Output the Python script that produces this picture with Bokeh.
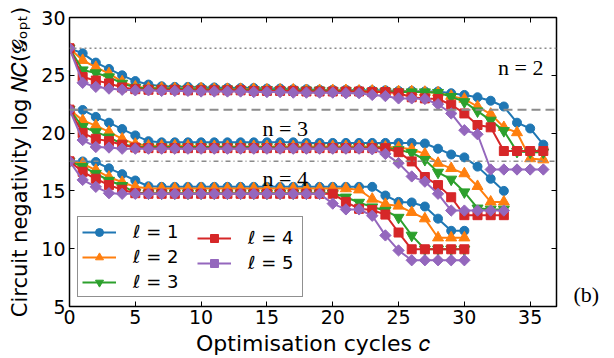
import math
from bokeh.plotting import figure
from bokeh.models import (Range1d, FixedTicker, LinearAxis, CustomJSTickFormatter,
                          Legend, LegendItem, Span, Label)
from bokeh.embed import file_html
from bokeh.resources import INLINE

# ---------------- data ----------------
x_ticks = [0, 5, 10, 15, 20, 25, 30, 35]
y_ticks = [5, 10, 15, 20, 25, 30]

ell_labels = ["ℓ = 1", "ℓ = 2", "ℓ = 3", "ℓ = 4", "ℓ = 5"]
group_labels = ["n = 2", "n = 3", "n = 4"]
ref_levels = [27.34, 22.03, 17.56]

x_n2 = list(range(0, 37))
x_n3 = list(range(0, 34))
x_n4 = list(range(0, 31))

# n = 2
n2_l1 = [27.34, 26.9, 26.1, 25.55, 25.0, 24.5, 24.2, 24.05, 24.0, 24.0, 23.95, 23.95, 23.9, 23.9,
         23.9, 23.85, 23.85, 23.8, 23.8, 23.75, 23.75, 23.75, 23.7, 23.7, 23.7, 23.65, 23.65, 23.6,
         23.6, 23.45, 23.3, 23.1, 22.8, 22.3, 20.9, 20.4, 19.0]
n2_l2 = [27.34, 26.3, 25.7, 25.15, 24.45, 24.0, 23.9, 23.9, 23.85, 23.85, 23.85, 23.8, 23.8, 23.8,
         23.8, 23.75, 23.75, 23.75, 23.7, 23.7, 23.7, 23.7, 23.65, 23.65, 23.6, 23.6, 23.6, 23.55,
         23.5, 23.2, 22.95, 22.3, 21.65, 20.5, 20.05, 17.8, 17.7]
n2_l3 = [27.34, 25.45, 25.2, 24.85, 24.3, 23.95, 23.85, 23.85, 23.85, 23.8, 23.8, 23.8, 23.8, 23.75,
         23.75, 23.75, 23.7, 23.7, 23.7, 23.7, 23.65, 23.65, 23.6, 23.6, 23.6, 23.55, 23.55, 23.55,
         23.5, 23.15, 22.7, 21.9, 21.1, 20.2, 18.4, 18.35, 18.35]
n2_l4 = [27.34, 24.85, 24.55, 24.3, 23.95, 23.8, 23.75, 23.75, 23.75, 23.7, 23.7, 23.7, 23.7, 23.7,
         23.65, 23.65, 23.65, 23.65, 23.6, 23.6, 23.6, 23.6, 23.6, 23.55, 23.55, 23.45, 23.1, 23.0,
         22.95, 22.45, 21.7, 20.7, 20.5, 18.45, 18.45, 18.45, 18.45]
n2_l5 = [27.34, 24.35, 24.0, 23.85, 23.75, 23.7, 23.7, 23.65, 23.65, 23.65, 23.6, 23.6, 23.6, 23.6,
         23.55, 23.55, 23.55, 23.5, 23.5, 23.5, 23.5, 23.45, 23.45, 23.3, 23.2, 23.0, 23.0, 22.95,
         22.5, 21.7, 20.25, 19.9, 16.85, 16.85, 16.85, 16.85, 16.85]

# n = 3
n3_l1 = [22.03, 22.0, 21.4, 20.9, 20.35, 19.8, 19.3, 19.2, 19.2, 19.2, 19.2, 19.2, 19.2, 19.2,
         19.2, 19.2, 19.2, 19.2, 19.15, 19.15, 19.15, 19.15, 19.15, 19.15, 19.15, 19.15, 19.15,
         19.1, 18.65, 18.15, 17.9, 17.1, 16.05, 15.0]
n3_l2 = [22.03, 21.1, 20.65, 20.1, 19.5, 19.05, 18.9, 18.9, 18.9, 18.9, 18.85, 18.85, 18.85, 18.85,
         18.85, 18.85, 18.85, 18.85, 18.85, 18.85, 18.85, 18.85, 18.85, 18.85, 18.8, 18.75, 18.6,
         18.2, 17.4, 16.95, 16.5, 15.4, 14.05, 14.05]
n3_l3 = [22.03, 20.55, 20.1, 19.65, 19.05, 18.8, 18.8, 18.8, 18.8, 18.8, 18.8, 18.8, 18.8, 18.8,
         18.8, 18.8, 18.75, 18.75, 18.75, 18.75, 18.75, 18.75, 18.75, 18.75, 18.75, 18.55, 18.3,
         17.7, 16.6, 16.0, 14.9, 13.5, 13.4, 13.4]
n3_l4 = [22.03, 20.0, 19.5, 19.3, 19.0, 18.75, 18.7, 18.7, 18.7, 18.7, 18.7, 18.7, 18.7, 18.7,
         18.7, 18.7, 18.7, 18.7, 18.7, 18.7, 18.7, 18.7, 18.7, 18.7, 18.7, 18.35, 17.55, 16.2,
         15.5, 14.45, 12.9, 12.9, 12.9, 12.9]
n3_l5 = [22.03, 19.4, 18.8, 18.75, 18.65, 18.65, 18.65, 18.65, 18.65, 18.65, 18.65, 18.65, 18.65,
         18.65, 18.65, 18.65, 18.65, 18.65, 18.65, 18.65, 18.65, 18.65, 18.65, 18.6, 18.2, 17.4,
         16.25, 15.8, 14.75, 13.3, 13.3, 13.3, 13.3, 13.3]

# n = 4
n4_l1 = [17.56, 17.55, 17.5, 16.95, 16.45, 15.9, 15.4, 15.35, 15.35, 15.35, 15.35, 15.35, 15.35,
         15.35, 15.35, 15.35, 15.35, 15.35, 15.35, 15.35, 15.35, 15.35, 15.35, 15.35, 14.6, 14.05,
         14.0, 13.65, 12.6, 11.55, 11.55]
n4_l2 = [17.56, 17.35, 16.8, 16.2, 15.75, 15.35, 15.2, 15.2, 15.2, 15.2, 15.2, 15.2, 15.2, 15.2,
         15.2, 15.2, 15.2, 15.2, 15.2, 15.2, 15.2, 15.2, 15.1, 14.3, 13.85, 13.7, 13.15, 12.6,
         10.95, 10.95, 10.95]
n4_l3 = [17.56, 17.1, 16.5, 15.9, 15.45, 14.85, 14.8, 14.8, 14.8, 14.8, 14.8, 14.8, 14.8, 14.8,
         14.8, 14.8, 14.8, 14.8, 14.8, 14.8, 14.8, 14.45, 14.0, 13.6, 13.3, 12.7, 11.15, 9.95,
         9.95, 9.95, 9.95]
n4_l4 = [17.56, 16.65, 16.05, 15.5, 15.1, 14.8, 14.75, 14.75, 14.75, 14.75, 14.75, 14.75, 14.75,
         14.75, 14.75, 14.75, 14.75, 14.75, 14.75, 14.75, 14.75, 14.05, 13.45, 13.35, 12.95, 11.4,
         9.95, 9.95, 9.95, 9.95, 9.95]
n4_l5 = [17.56, 15.95, 15.35, 14.8, 14.75, 14.75, 14.75, 14.75, 14.75, 14.75, 14.75, 14.75, 14.75,
         14.75, 14.75, 14.75, 14.75, 14.75, 14.75, 14.75, 13.9, 13.4, 13.4, 12.85, 11.15, 9.85,
         9.0, 9.0, 9.0, 9.0, 9.0]

series = [
    [(x_n2, n2_l1), (x_n3, n3_l1), (x_n4, n4_l1)],
    [(x_n2, n2_l2), (x_n3, n3_l2), (x_n4, n4_l2)],
    [(x_n2, n2_l3), (x_n3, n3_l3), (x_n4, n4_l3)],
    [(x_n2, n2_l4), (x_n3, n3_l4), (x_n4, n4_l4)],
    [(x_n2, n2_l5), (x_n3, n3_l5), (x_n4, n4_l5)],
]

x_label = "Optimisation cycles 𝑐"
y_label = "Circuit negativity log 𝑁𝐶(𝓖ₒₚₜ)"
panel_tag = "(b)"
panel_tag_at = 6

# ---------------- styles ----------------
colors = ["#1f77b4", "#ff7f0e", "#2ca02c", "#d62728", "#9467bd"]
markers = ["circle", "triangle", "inverted_triangle", "square", "square"]
msizes = [9, 11, 11, 9, 8]
mangles = [0, 0, 0, 0, math.pi / 4]

W, H = 614, 358
BL, BR, BT, BB = 69, 58, 17, 52
X0, X1, Y0, Y1 = 0, 37, 5, 30
FW, FH = W - BL - BR, H - BT - BB


def sx(px):
    return X0 + (px - BL) * (X1 - X0) / FW


def sy(py):
    return Y1 - (py - BT) * (Y1 - Y0) / FH


p = figure(width=W, height=H, x_range=Range1d(X0, X1), y_range=Range1d(Y0, Y1),
           output_backend="svg", toolbar_location=None,
           min_border_left=BL, min_border_right=BR, min_border_top=BT, min_border_bottom=BB,
           background_fill_color="white", border_fill_color="white")
p.xgrid.visible = False
p.ygrid.visible = False
p.outline_line_color = "black"
p.outline_line_width = 1.5
p.outline_line_alpha = 1.0

for ax, ticks in ((p.xaxis, x_ticks), (p.yaxis, y_ticks)):
    ax.ticker = FixedTicker(ticks=ticks)
    ax.major_tick_in = 5
    ax.major_tick_out = 0
    ax.minor_tick_in = 0
    ax.minor_tick_out = 0
    ax.major_tick_line_color = "black"
    ax.axis_line_color = "black"
    ax.major_label_text_font = "DejaVu Sans"
    ax.major_label_text_font_size = "19px"
    ax.major_label_text_color = "black"
    ax.axis_label_text_font = "DejaVu Sans"
    ax.axis_label_text_font_style = "normal"
    ax.axis_label_text_color = "black"
p.xaxis.major_label_standoff = 3
p.yaxis.major_label_standoff = 4
p.xaxis.axis_label = x_label
p.xaxis.axis_label_text_font_size = "22px"
p.xaxis.axis_label_standoff = 4
p.yaxis.axis_label = y_label
p.yaxis.axis_label_text_font_size = "21px"
p.yaxis.axis_label_standoff = 6

blank = CustomJSTickFormatter(code="return ''")
for loc, ticks in (("above", x_ticks), ("right", y_ticks)):
    a = LinearAxis(ticker=FixedTicker(ticks=ticks), formatter=blank,
                   major_tick_in=5, major_tick_out=0, minor_tick_in=0, minor_tick_out=0,
                   major_label_text_font_size="1px", major_label_standoff=0,
                   axis_line_color="black", major_tick_line_color="black")
    p.add_layout(a, loc)

tag_axis = LinearAxis(ticker=FixedTicker(ticks=[panel_tag_at]),
                      major_label_overrides={panel_tag_at: panel_tag},
                      major_tick_in=0, major_tick_out=0, minor_tick_in=0, minor_tick_out=0,
                      axis_line_color=None, major_label_standoff=17,
                      major_label_text_font="Liberation Serif",
                      major_label_text_font_size="22px", major_label_text_color="black")
p.add_layout(tag_axis, "right")

dashes = ["2 3", "9 5", "5 3 1 3"]
widths = [1.6, 2, 1.6]
for lvl, d, w in zip(ref_levels, dashes, widths):
    p.add_layout(Span(location=lvl, dimension="width", line_color="#8c8c8c",
                      line_dash=d, line_width=w))

items = []
for i, groups in enumerate(series):
    first = None
    for xs, ys in groups:
        lr = p.line(xs, ys, line_color=colors[i], line_width=2)
        sr = p.scatter(xs, ys, marker=markers[i], size=msizes[i], angle=mangles[i],
                       fill_color=colors[i], line_color=colors[i])
        if first is None:
            first = [lr, sr]
    items.append(LegendItem(label=ell_labels[i], renderers=first))

common = dict(padding=4, spacing=4, glyph_width=34, glyph_height=20, label_height=20,
              label_standoff=17, label_text_font="DejaVu Sans", label_text_font_size="18px",
              label_text_color="black", margin=0)
leg1 = Legend(items=items[:3], location=(8, 9), border_line_color="#222222",
              border_line_width=1.5, background_fill_color="white", background_fill_alpha=1.0,
              label_width=165, **common)
leg2 = Legend(items=items[3:], location=(128, 33), border_line_color=None,
              background_fill_alpha=0.0, label_width=40, **common)
p.add_layout(leg1)
p.add_layout(leg2)

# group labels
p.add_layout(Label(x=sx(543), y=sy(67), text=group_labels[0], text_align="right",
                   text_baseline="alphabetic", text_font="Liberation Serif",
                   text_font_size="22px", text_color="black"))
p.add_layout(Label(x=sx(262), y=sy(128), text=group_labels[1], text_align="left",
                   text_baseline="alphabetic", text_font="Liberation Serif",
                   text_font_size="22px", text_color="black"))
p.add_layout(Label(x=sx(262), y=sy(178), text=group_labels[2], text_align="left",
                   text_baseline="alphabetic", text_font="Liberation Serif",
                   text_font_size="22px", text_color="black"))

open("out.html", "w").write(file_html(p, INLINE))
